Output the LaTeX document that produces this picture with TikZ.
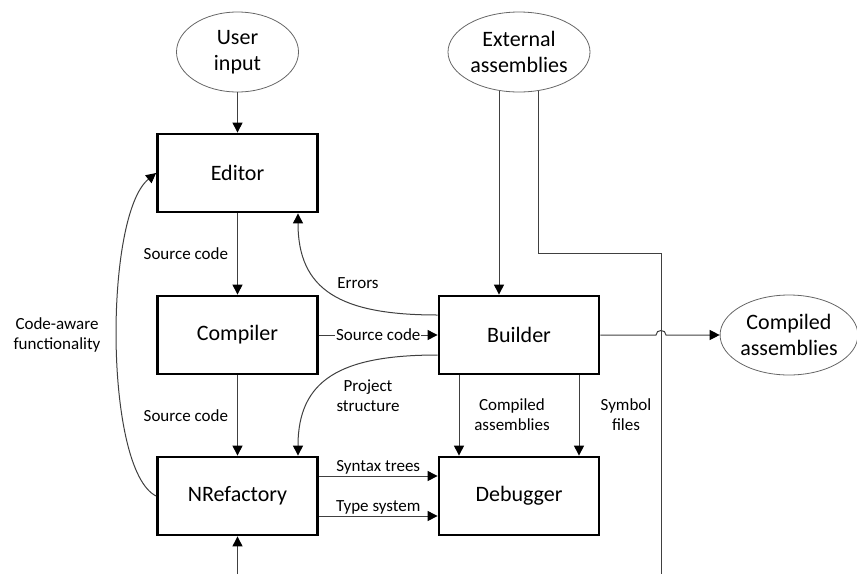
\documentclass[tikz,border=0pt]{standalone}
\usepackage{fontspec}
\setmainfont{Carlito}
\usetikzlibrary{arrows.meta,shapes.geometric,calc}
\begin{document}
\begin{tikzpicture}[x=1pt,y=-1pt,
  box/.style={draw=black,line width=2.8pt,minimum width=160pt,minimum height=78pt,
    font=\fontsize{22}{26}\selectfont,inner sep=0pt},
  oval/.style={ellipse,draw=black!60,line width=0.8pt,minimum height=80pt,
    font=\fontsize{22}{26}\selectfont,align=center,inner sep=0pt},
  conn/.style={draw=black!75,line width=1pt},
  arr/.style={conn,-{Triangle[length=10pt,width=10pt,color=black]}},
  lbl/.style={font=\fontsize{17}{20}\selectfont,align=center,inner sep=1pt}
]
\useasboundingbox (0,0) rectangle (857,574);

% sources
\node[oval,minimum width=122pt] (user) at (237.5,52) {User\\input};
\node[oval,minimum width=142pt] (ext) at (519,52) {External\\assemblies};

% main components
\node[box] (editor)   at (237.5,173) {Editor};
\node[box] (compiler) at (237.5,335) {Compiler};
\node[box] (nref)     at (237.5,496) {NRefactory};
\node[box] (builder)  at (519,335)   {Builder};
\node[box] (debugger) at (519,496)   {Debugger};

% output
\node[oval,minimum width=136pt] (compiled) at (789,335) {Compiled\\assemblies};

% free ends and bends
\coordinate (bend)    at (661,253);
\coordinate (bottomR) at (661,574);
\coordinate (bottomL) at (237.5,574);
\coordinate (hopA)    at (656,335);
\coordinate (hopB)    at (666,335);

% editor chain
\draw[arr] (user) -- (editor);
\draw[arr] (editor) -- (compiler)
  node[lbl,midway,left,xshift=-8pt] {Source code};
\draw[arr] (compiler) -- (nref)
  node[lbl,midway,left,xshift=-8pt] {Source code};
\draw[arr] (compiler) -- (builder)
  node[lbl,midway,fill=white,inner sep=1pt] {Source code};
\draw[arr] (bottomL) -- (nref);

% code-aware feedback
\draw[arr] (nref.west) .. controls (104,470) and (104,215) .. (editor.west);
\node[lbl] (codeaware) at (57,335) {Code-aware\\functionality};

% builder feedback
\draw[arr] ($(builder.west)+(0,-20)$) .. controls (340,315) and (298,290)
  .. ($(editor.south)+(60.5,0)$);
\node[lbl] (errlbl) at (358,283) {Errors};
\draw[arr] ($(builder.west)+(0,20)$) .. controls (340,355) and (298,380)
  .. ($(nref.north)+(60.5,0)$);
\node[lbl] (projlbl) at (368,396) {Project\\structure};

% external assemblies
\draw[arr] ($(ext.south)+(-20,-1.6)$) -- ($(builder.north)+(-20,0)$);
\draw[conn] ($(ext.south)+(19,-1.6)$) |- (bend) -- (bottomR);

% builder outputs
\draw[arr] (builder.east) -- (hopA) .. controls (656,329) and (666,329) .. (hopB)
  -- (compiled.west);
\draw[arr] ($(builder.south)+(-60,0)$) -- ($(debugger.north)+(-60,0)$);
\node[lbl] (asmlbl) at (512,415) {Compiled\\assemblies};
\draw[arr] ($(builder.south)+(60,0)$) -- ($(debugger.north)+(60,0)$);
\node[lbl] (symlbl) at (626,415) {Symbol\\files};

% NRefactory to debugger
\draw[arr] ($(nref.east)+(0,-20)$) -- ($(debugger.west)+(0,-20)$)
  node[lbl,midway,above] {Syntax trees};
\draw[arr] ($(nref.east)+(0,20)$) -- ($(debugger.west)+(0,20)$)
  node[lbl,midway,above] {Type system};
\end{tikzpicture}
\end{document}
